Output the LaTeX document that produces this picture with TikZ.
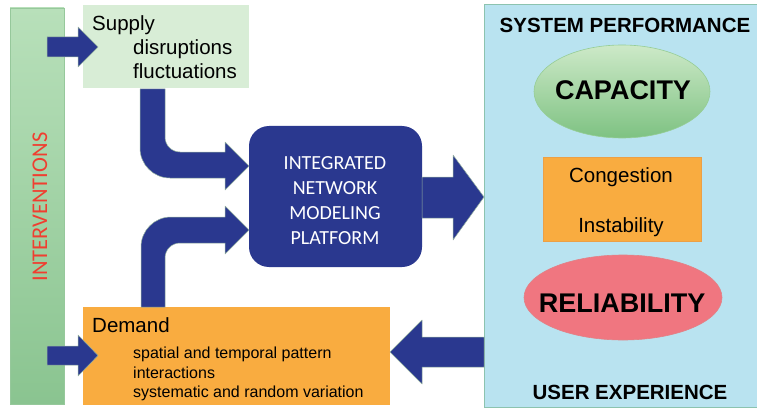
\documentclass[tikz,border=0pt]{standalone}
\usepackage{fontspec}
\setmainfont{Liberation Sans}
\newfontfamily\calfont{Carlito}
\definecolor{navy}{RGB}{42,56,143}
\definecolor{navyedge}{RGB}{150,178,160}
\definecolor{intTop}{RGB}{184,224,186}
\definecolor{intBot}{RGB}{138,196,144}
\definecolor{intEdge}{RGB}{150,200,155}
\definecolor{intRed}{RGB}{240,62,48}
\definecolor{supplyFill}{RGB}{216,237,214}
\definecolor{orangeFill}{RGB}{249,172,64}
\definecolor{orangeEdge}{RGB}{236,160,70}
\definecolor{sysFill}{RGB}{185,227,240}
\definecolor{sysEdge}{RGB}{140,195,175}
\definecolor{capTop}{RGB}{205,233,200}
\definecolor{capBot}{RGB}{126,194,130}
\definecolor{capEdge}{RGB}{150,205,150}
\definecolor{relFill}{RGB}{240,118,128}
\definecolor{relEdge}{RGB}{225,130,135}
\begin{document}
\begin{tikzpicture}[x=1pt,y=-1pt,
  blockarrow/.style={fill=navy,draw=navyedge,line width=0.5pt,line join=round},
  tl/.style={inner sep=0pt,anchor=base west,text=black},
  tc/.style={inner sep=0pt,anchor=base,text=black},
  f20/.style={font=\fontsize{20.5}{24}\selectfont},
  f16/.style={font=\fontsize{16}{19}\selectfont},
  fbold/.style={font=\bfseries\fontsize{20.5}{24}\selectfont},
  fbig/.style={font=\bfseries\fontsize{27}{30}\selectfont},
  plat/.style={inner sep=0pt,anchor=base,text=white,font=\calfont\fontsize{20}{24}\selectfont},
]
\useasboundingbox (0,0) rectangle (757,409);
\clip (0,0) rectangle (757,409);
\fill[white] (0,0) rectangle (757,409);

% Interventions bar
\node[draw=intEdge,line width=0.6pt,top color=intTop,bottom color=intBot,
      minimum width=54pt,minimum height=396pt,inner sep=0pt] (interv) at (37,206) {};
\node[rotate=90,anchor=base,inner sep=0pt,text=intRed,
      font=\calfont\fontsize{22.5}{26}\selectfont] (intlabel) at (47,207) {INTERVENTIONS};

% Supply box
\node[fill=supplyFill,minimum width=166pt,minimum height=83pt,inner sep=0pt] (supply) at (166,46.5) {};
\node[tl,f20] (sup1) at (92,31) {Supply};
\node[tl,f20] (sup2) at (133,55) {disruptions};
\node[tl,f20] (sup3) at (133,79) {fluctuations};

% Demand box
\node[fill=orangeFill,minimum width=307pt,minimum height=98pt,inner sep=0pt] (demand) at (236.5,356) {};
\node[tl,f20] (dem0) at (92,332) {Demand};
\node[tl,f16] (dem1) at (133,358) {spatial and temporal pattern};
\node[tl,f16] (dem2) at (133,378) {interactions};
\node[tl,f16] (dem3) at (133,397) {systematic and random variation};

% Platform
\node[fill=navy,rounded corners=20pt,minimum width=173pt,minimum height=141pt,inner sep=0pt] (platform) at (335.5,196.5) {};
\node[plat] (pl1) at (335,169) {INTEGRATED};
\node[plat] (pl2) at (335,194) {NETWORK};
\node[plat] (pl3) at (335,219) {MODELING};
\node[plat] (pl4) at (335,244) {PLATFORM};

% System box
\node[fill=sysFill,draw=sysEdge,line width=0.8pt,minimum width=290pt,minimum height=403pt,inner sep=0pt,anchor=north west] (system) at (484,4) {};
\node[tc,fbold] (sysperf) at (625,33) {SYSTEM PERFORMANCE};
\node[tc,fbold] (userexp) at (630,399) {USER EXPERIENCE};

% Capacity ellipse
\shade[top color=capTop,bottom color=capBot] (622,91.5) ellipse [x radius=88, y radius=46.5];
\draw[capEdge,line width=0.6pt] (622,91.5) ellipse [x radius=88, y radius=46.5];
\node[tc,fbig] (capacity) at (623,100) {CAPACITY};

% Congestion box
\node[fill=orangeFill,draw=orangeEdge,line width=0.6pt,minimum width=158pt,minimum height=84pt,inner sep=0pt] (cong) at (622,199) {};
\node[tc,f20] (congt) at (621,182) {Congestion};
\node[tc,f20] (inst) at (621,232) {Instability};

% Reliability ellipse
\filldraw[fill=relFill,draw=relEdge,line width=0.6pt] (623,297.5) ellipse [x radius=99, y radius=42.5];
\node[tc,fbig] (reliab) at (622,312) {RELIABILITY};

% Straight arrows into Supply and Demand
\draw[blockarrow] (47,37) -- (78,37) -- (78,27) -- (98,47) -- (78,67) -- (78,57) -- (47,57) -- cycle;
\draw[blockarrow] (47,346) -- (78,346) -- (78,335) -- (98,355.5) -- (78,376) -- (78,365) -- (47,365) -- cycle;

% Bent arrow Supply -> Platform
\draw[blockarrow] (140,89) -- (165,89) -- (165,137)
  .. controls (165,145.3) and (171.7,152) .. (180,152)
  -- (225,152) -- (225,142) -- (249,166) -- (225,190) -- (225,178) -- (170,178)
  .. controls (153.4,178) and (140,164.6) .. (140,148) -- cycle;

% Bent arrow Demand -> Platform
\draw[blockarrow] (141,307) -- (141,247)
  .. controls (141,230.4) and (154.4,217) .. (171,217)
  -- (225,217) -- (225,206) -- (249,230) -- (225,254) -- (225,243) -- (180,243)
  .. controls (171.7,243) and (165,249.7) .. (165,258)
  -- (165,307) -- cycle;

% Platform -> System
\draw[blockarrow] (422,177) -- (453,177) -- (453,155) -- (484,197) -- (453,240) -- (453,218) -- (422,218) -- cycle;

% System -> Demand
\draw[blockarrow] (484,337) -- (422,337) -- (422,320) -- (390,352) -- (422,384) -- (422,367) -- (484,367) -- cycle;
\end{tikzpicture}
\end{document}
